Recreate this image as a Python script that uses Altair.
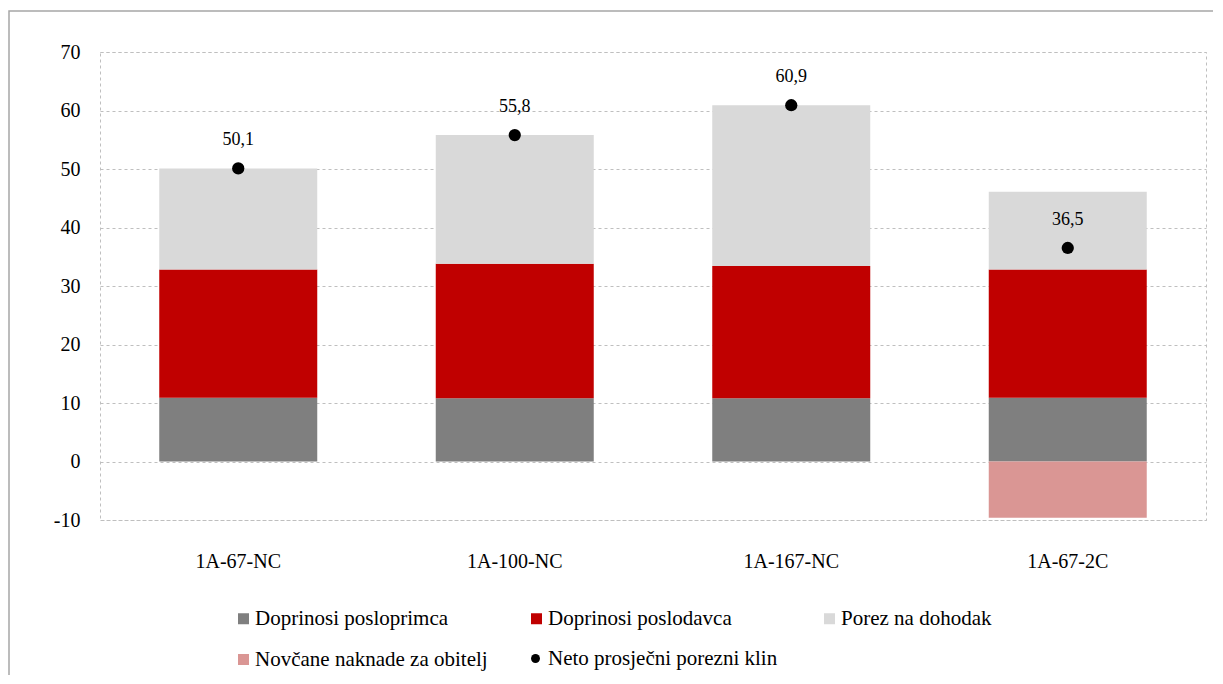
import altair as alt
import pandas as pd

categories = ["1A-67-NC", "1A-100-NC", "1A-167-NC", "1A-67-2C"]
employee = [10.9, 10.8, 10.8, 10.9]
employer = [21.9, 23.0, 22.6, 21.9]
income_tax = [17.3, 22.0, 27.5, 13.3]
family = [0.0, 0.0, 0.0, -9.6]
net_wedge = [50.1, 55.8, 60.9, 36.5]

series_names = ["Doprinosi posloprimca", "Doprinosi poslodavca", "Porez na dohodak",
                "Novčane naknade za obitelj"]
series_colors = ["#7f7f7f", "#c00000", "#d9d9d9", "#da9694"]
net_name = "Neto prosječni porezni klin"

FONT = "Liberation Serif"

rows = []
for i, c in enumerate(categories):
    for k, (name, vals) in enumerate(zip(series_names, [employee, employer, income_tax, family])):
        if vals[i] != 0:
            rows.append({"cat": c, "serie": name, "value": vals[i], "ord": k})
bars_df = pd.DataFrame(rows)
net_df = pd.DataFrame({"cat": categories, "net": net_wedge, "lbl": [net_name] * len(categories)})

x_enc = alt.X("cat:N", sort=categories, title=None,
              scale=alt.Scale(paddingInner=0.43, paddingOuter=0.215),
              axis=alt.Axis(labelAngle=0, ticks=False, domain=False, labelPadding=31,
                            labelFont=FONT, labelFontSize=20, labelColor="#000"))

y_scale = alt.Scale(domain=[-10, 70], nice=False)

frame = alt.Chart(pd.DataFrame({"a": [0]})).mark_rect(
    fillOpacity=0, stroke="#a6a6a6", strokeWidth=1.5
).encode(x=alt.value(-91), x2=alt.value(1200), y=alt.value(-41), y2=alt.value(720))

bars = alt.Chart(bars_df).mark_bar(size=158).encode(
    x=x_enc,
    y=alt.Y("value:Q", stack="zero", scale=y_scale, title=None,
            axis=alt.Axis(values=list(range(-10, 71, 10)), ticks=False, domain=False,
                          labelExpr="'' + datum.value",
                          labelPadding=20, labelFont=FONT, labelFontSize=20, labelColor="#000",
                          gridColor="#bfbfbf", gridDash=[3, 3], gridWidth=1)),
    color=alt.Color("serie:N", scale=alt.Scale(domain=series_names, range=series_colors),
                    legend=alt.Legend(title=None, orient="none", legendX=133, legendY=556,
                                      columns=3, direction="horizontal", gridAlign="all",
                                      columnPadding=38, rowPadding=19, padding=0,
                                      symbolType="square", symbolSize=121, symbolStrokeWidth=0,
                                      labelFont=FONT, labelFontSize=21, labelColor="#000",
                                      labelOffset=1, labelLimit=400)),
    order=alt.Order("ord:Q"),
)

points = alt.Chart(net_df).mark_point(filled=True, size=150, color="black", opacity=1).encode(
    x=alt.X("cat:N", sort=categories),
    y=alt.Y("net:Q", scale=y_scale),
    shape=alt.Shape("lbl:N", scale=alt.Scale(domain=[net_name], range=["circle"]),
                    legend=alt.Legend(title=None, orient="none", legendX=425, legendY=596,
                                      padding=0, symbolSize=80, symbolFillColor="black",
                                      symbolStrokeWidth=0, labelFont=FONT, labelFontSize=21,
                                      labelColor="#000", labelOffset=2, labelLimit=400)),
)

labels = alt.Chart(net_df).transform_calculate(
    txt="replace(format(datum.net, '.1f'), '.', ',')"
).mark_text(font=FONT, fontSize=18, dy=-28, color="#000").encode(
    x=alt.X("cat:N", sort=categories),
    y=alt.Y("net:Q", scale=y_scale),
    text="txt:N",
)

chart = alt.layer(frame, bars, points, labels).resolve_scale(color="independent").properties(
    width=1106, height=468,
    autosize=alt.AutoSizeParams(type="none"),
    padding={"left": 92, "top": 44, "right": 7, "bottom": 155},
).configure_view(stroke="#bfbfbf", strokeDash=[3, 3], strokeWidth=1)

chart.save("out.html", embed_options={"renderer": "svg", "actions": False})
